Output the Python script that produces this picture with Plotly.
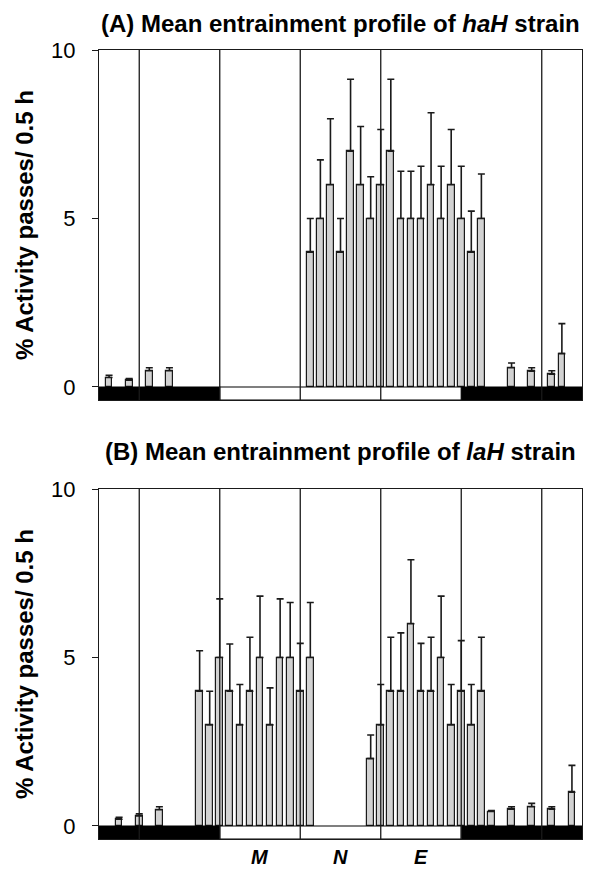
import plotly.graph_objects as go

# ---------------- data ----------------
# positions are half-hour bins (0..48) across the 24 h day
a_pos = [1, 3, 5, 7, 21, 22, 23, 24, 25, 26, 27, 28, 29, 30, 31, 32, 33, 34, 35, 36, 37, 38, 41, 43, 45, 46]
a_val = [0.28, 0.2, 0.48, 0.48, 4, 5, 6, 4, 7, 6, 5, 6, 7, 5, 5, 5, 6, 5, 6, 5, 4, 5, 0.57, 0.47, 0.38, 0.99]
a_err = [0.07, 0.05, 0.09, 0.09, 1.0, 1.74, 1.96, 1.0, 2.13, 1.73, 1.24, 1.64, 2.13, 1.4, 1.4, 1.55, 2.14, 1.55,
         1.64, 1.55, 1.22, 1.32, 0.14, 0.1, 0.1, 0.89]

b_pos = [2, 4, 6, 10, 11, 12, 13, 14, 15, 16, 17, 18, 19, 20, 21, 27, 28, 29, 30, 31, 32, 33, 34, 35, 36, 37, 38,
         39, 41, 43, 45, 47]
b_val = [0.2, 0.3, 0.48, 4, 3, 5, 4, 3, 4, 5, 3, 5, 5, 4, 5, 2, 3, 4, 4, 6, 4, 4, 5, 3, 4, 3, 4,
         0.43, 0.5, 0.57, 0.5, 1.0]
b_err = [0.06, 0.06, 0.09, 1.2, 1.0, 1.74, 1.4, 1.2, 1.6, 1.82, 1.1, 1.74, 1.63, 1.42, 1.63, 0.7, 1.2, 1.6, 1.73,
         1.9, 1.42, 1.6, 1.82, 1.2, 1.5, 1.2, 1.6, 0.03, 0.07, 0.1, 0.07, 0.8]

y_ticks = [0, 5, 10]
a_vlines = [4, 12, 20, 28, 44]
b_vlines = [4, 12, 20, 28, 36, 44]
dark_periods = [(0, 12), (36, 48)]
light_periods = [(12, 36)]
phase_labels = ["M", "N", "E"]
phase_pos = [16, 24, 32]

title_a = "<b>(A) Mean entrainment profile of <i>haH</i> strain</b>"
title_b = "<b>(B) Mean entrainment profile of <i>laH</i> strain</b>"
y_title = "<b>% Activity passes/ 0.5 h</b>"

# ---------------- figure ----------------
FONT = "Liberation Sans, Arial, Helvetica, sans-serif"
STRIP = -0.386
OFF = 8                      # page body margin
W, H = 600 - OFF, 870 - OFF
T, B = 50 - OFF, H - (839 - OFF)
PH = H - T - B


def py(px):
    """window pixel row -> paper y"""
    return (H - B - (px - OFF)) / PH


fig = go.Figure()

for pos, val, err, xa, ya in [(a_pos, a_val, a_err, "x", "y"), (b_pos, b_val, b_err, "x2", "y2")]:
    fig.add_trace(go.Bar(
        x=pos, y=val, width=0.66, xaxis=xa, yaxis=ya,
        marker=dict(color="#d2d2d2", line=dict(color="#1a1a1a", width=1.2)),
        error_y=dict(type="data", symmetric=False, array=err, arrayminus=[0] * len(err),
                     color="#1a1a1a", thickness=1.6, width=3.5),
        showlegend=False, hoverinfo="skip",
    ))

shapes = []
for xr, yr, vlines in [("x", "y", a_vlines), ("x2", "y2", b_vlines)]:
    for x0, x1 in dark_periods:
        shapes.append(dict(type="rect", xref=xr, yref=yr, x0=x0, x1=x1, y0=STRIP, y1=0,
                           fillcolor="black", line=dict(color="black", width=1.2), layer="above"))
    for x0, x1 in light_periods:
        shapes.append(dict(type="rect", xref=xr, yref=yr, x0=x0, x1=x1, y0=STRIP, y1=0,
                           fillcolor="white", line=dict(color="black", width=1.2), layer="above"))
    for v in vlines:
        shapes.append(dict(type="line", xref=xr, yref=yr, x0=v, x1=v, y0=STRIP, y1=10,
                           line=dict(color="#1a1a1a", width=1.3), layer="above"))

annotations = [
    dict(text=title_a, xref="paper", yref="paper", x=0.5, y=py(23), xanchor="center", yanchor="middle",
         showarrow=False, font=dict(family=FONT, size=24, color="black")),
    dict(text=title_b, xref="paper", yref="paper", x=0.5, y=py(451), xanchor="center", yanchor="middle",
         showarrow=False, font=dict(family=FONT, size=24, color="black")),
]
for lab, p in zip(phase_labels, phase_pos):
    annotations.append(dict(text="<b><i>" + lab + "</i></b>", xref="x2", yref="paper", x=p, y=py(857),
                            xanchor="center", yanchor="middle", showarrow=False,
                            font=dict(family=FONT, size=20, color="black")))

xaxis_common = dict(range=[0, 48], showticklabels=False, ticks="", showgrid=False, zeroline=False,
                    showline=True, mirror=True, linecolor="#1a1a1a", linewidth=1.3)
yaxis_common = dict(range=[STRIP, 10], tickvals=y_ticks, ticks="outside", ticklen=6, tickcolor="#1a1a1a",
                    showgrid=False, zeroline=False, showline=True, mirror=True, linecolor="#1a1a1a",
                    linewidth=1.3, tickfont=dict(family=FONT, size=22, color="black"),
                    ticklabelstandoff=12,
                    title=dict(text=y_title, font=dict(family=FONT, size=24, color="black"), standoff=10))

fig.update_layout(
    width=W, height=H,
    margin=dict(l=99 - OFF, r=W - (582 - OFF), t=T, b=B),
    paper_bgcolor="white", plot_bgcolor="white",
    bargap=0,
    xaxis=dict(domain=[0, 1], anchor="y", **xaxis_common),
    yaxis=dict(domain=[py(400), py(50)], anchor="x", **yaxis_common),
    xaxis2=dict(domain=[0, 1], anchor="y2", **xaxis_common),
    yaxis2=dict(domain=[py(839), py(489)], anchor="x2", **yaxis_common),
    shapes=shapes,
    annotations=annotations,
    font=dict(family=FONT),
)

fig.write_html("out.html")
